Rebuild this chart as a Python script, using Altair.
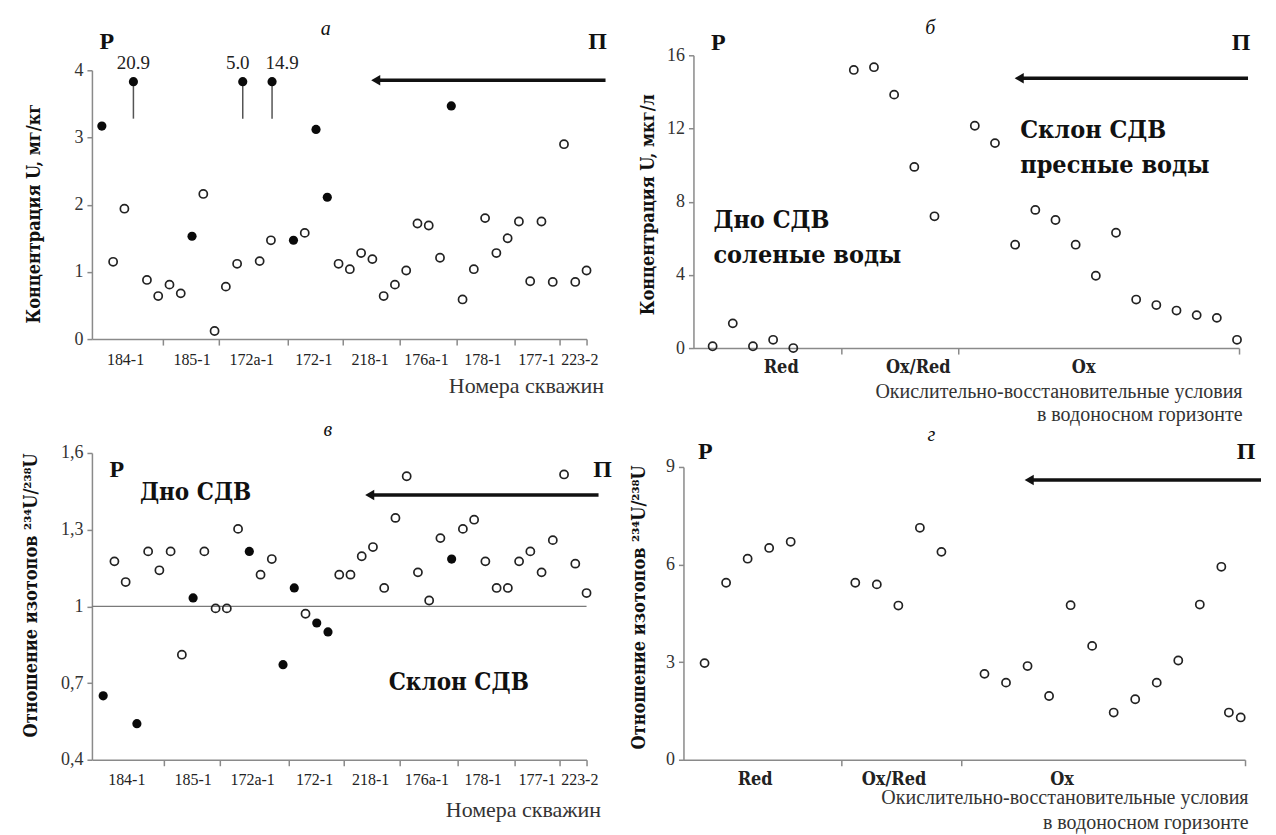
import altair as alt
import pandas as pd

SERIF = "'Liberation Serif', 'Times New Roman', serif"
BOLD = "'DejaVu Serif Condensed', 'DejaVu Serif', serif"
GRAY = "#8a8a8a"
INK = "#111111"

# ---------- panel a : U concentration in rocks ----------
wells = ["184-1", "185-1", "172a-1", "172-1", "218-1", "176a-1", "178-1", "177-1", "223-2"]
well_label_pos = [2.1, 8.0, 13.3, 18.8, 23.8, 28.8, 33.8, 38.6, 42.4]
well_ticks = [5.4, 10.4, 16.5, 21.4, 26.4, 31.5, 36.6, 40.6, 43.0]

a_x = [0, 1, 2, 4, 5, 6, 7, 8, 9, 10, 11, 12, 14, 15, 17, 18, 19, 20, 21, 22, 23, 24,
       25, 26, 27, 28, 29, 30, 31, 32, 33, 34, 35, 36, 37, 38, 39, 40, 41, 42, 43]
a_y = [3.17, 1.15, 1.94, 0.88, 0.64, 0.81, 0.68, 1.53, 2.16, 0.12, 0.78, 1.12, 1.16, 1.47,
       1.47, 1.58, 3.12, 2.11, 1.12, 1.04, 1.28, 1.19, 0.64, 0.81, 1.02, 1.72, 1.69, 1.21,
       3.47, 0.59, 1.04, 1.80, 1.28, 1.50, 1.75, 0.86, 1.75, 0.85, 2.90, 0.85, 1.02]
a_fill = [1, 0, 0, 0, 0, 0, 0, 1, 0, 0, 0, 0, 0, 0, 1, 0, 1, 1, 0, 0, 0, 0, 0, 0, 0, 0, 0,
          0, 1, 0, 0, 0, 0, 0, 0, 0, 0, 0, 0, 0, 0]
# off-scale values drawn at the top of the axis
cap_x = [2.8, 12.5, 15.1]
cap_y = [3.83, 3.83, 3.83]
cap_low = [3.28, 3.28, 3.28]
cap_text = ["20.9", "5.0", "14.9"]

# ---------- panel b : U concentration in water ----------
redox = ["Red", "Ox/Red", "Ox"]
b_label_pos = [3.4, 10.2, 18.4]
b_ticks = [6.37, 12.18, 26.1]
b_x = [0, 1, 2, 3, 4, 7, 8, 9, 10, 11, 13, 14, 15, 16, 17, 18, 19, 20, 21, 22, 23, 24, 25, 26]
b_y = [0.1, 1.35, 0.1, 0.45, 0.0, 15.2, 15.35, 13.85, 9.9, 7.2, 12.15, 11.2, 5.65, 7.55,
       7.0, 5.65, 3.95, 6.3, 2.65, 2.35, 2.05, 1.8, 1.65, 0.45]

# ---------- panel c : 234U/238U in rocks ----------
c_y = [0.65, 1.176, 1.095, 0.541, 1.215, 1.141, 1.215, 0.811, 1.033, 1.215, 0.992, 0.992,
       1.303, 1.215, 1.124, 1.185, 0.772, 1.072, 0.971, 0.935, 0.90, 1.124, 1.124, 1.196,
       1.232, 1.072, 1.346, 1.509, 1.133, 1.023, 1.267, 1.185, 1.303, 1.339, 1.176, 1.072,
       1.072, 1.176, 1.215, 1.133, 1.259, 1.516, 1.167, 1.052]
c_x = list(range(len(c_y)))
c_fill = [1 if i in (0, 3, 8, 13, 16, 17, 19, 20, 31) else 0 for i in c_x]

# ---------- panel d : 234U/238U in water ----------
d_label_pos = [2.35, 8.8, 16.6]
d_ticks = [6.35, 11.9, 25.1]
d_x = [0, 1, 2, 3, 4, 7, 8, 9, 10, 11, 13, 14, 15, 16, 17, 18, 19, 20, 21, 22, 23, 24, 24.35, 24.9]
d_y = [2.97, 5.44, 6.18, 6.51, 6.70, 5.44, 5.39, 4.74, 7.13, 6.39, 2.64, 2.37, 2.88, 1.96,
       4.75, 3.50, 1.45, 1.86, 2.37, 3.05, 4.77, 5.93, 1.45, 1.30]

ratio_title = "Отношение изотопов ²³⁴U/²³⁸U"
redox_title = ["Окислительно-восстановительные условия", "в водоносном горизонте"]


def yaxis(title, values, tx, ty, offset=0, expr=None):
    kw = dict(values=values, title=title, titleX=tx, titleY=ty, titleAngle=270,
              titleBaseline="middle", titleAlign="center", titleFont=BOLD, titleFontSize=18,
              titleFontWeight="bold", titleColor=INK, labelFont=SERIF, labelFontSize=18,
              labelColor="#333333", tickSize=5, tickWidth=1.5, tickColor=GRAY,
              domainColor=GRAY, domainWidth=1.5, grid=False, labelPadding=4, offset=offset)
    if expr:
        kw["labelExpr"] = expr
    return alt.Axis(**kw)


def xaxis(title, values, tx, ty, offset=0, size=22, lh=24, baseline="middle"):
    return alt.Axis(values=values, labels=False, title=title, titleX=tx, titleY=ty,
                    titleAlign="right", titleBaseline=baseline, titleFont=SERIF,
                    titleFontSize=size, titleFontWeight="normal", titleColor="#333333",
                    titleLineHeight=lh, tickSize=6, tickWidth=1.5, tickColor=GRAY,
                    domainColor=GRAY, domainWidth=1.5, grid=False, offset=offset)


def text_at(t, x, y, size, weight="bold", style="normal", font=SERIF, align="center",
            baseline="middle", color=INK, lh=None):
    kw = dict(font=font, fontSize=size, fontWeight=weight, fontStyle=style, align=align,
              baseline=baseline, color=color)
    if lh:
        kw["lineBreak"] = "\n"
        kw["lineHeight"] = lh
    return alt.Chart(pd.DataFrame({"t": [t]})).mark_text(**kw).encode(
        x=alt.value(x), y=alt.value(y), text="t:N")


def arrow(xh, xt, y):
    d = pd.DataFrame({"k": [0]})
    line = alt.Chart(d).mark_rule(strokeWidth=3.5, color=INK).encode(
        x=alt.value(xh + 6), x2=alt.value(xt), y=alt.value(y))
    head = alt.Chart(d).mark_point(shape="triangle-left", filled=True, size=110,
                                   color=INK, opacity=1).encode(
        x=alt.value(xh + 5), y=alt.value(y))
    return [line, head]


def points(df, X, Y):
    open_ = alt.Chart(df).transform_filter("datum.f == 0").mark_point(
        shape="circle", size=66, strokeWidth=1.7, color="#222222", opacity=1,
        filled=False).encode(x=X, y=Y)
    full = alt.Chart(df).transform_filter("datum.f == 1").mark_point(
        shape="circle", size=84, filled=True, color="#0a0a0a", opacity=1).encode(x=X, y=Y)
    return [open_, full]


def cat_labels(names, pos, X, y, size, weight, font):
    df = pd.DataFrame({"x": pos, "t": names})
    return alt.Chart(df).mark_text(font=font, fontSize=size, fontWeight=weight,
                                   color="#222222", baseline="middle").encode(
        x=X, y=alt.value(y), text="t:N")


comma = "datum.value == 1 ? '1' : replace(format(datum.value, '.1f'), '.', ',')"

# ---------------- panel a ----------------
W1, W2, H1, H2 = 495, 562, 293, 307
Xa = alt.X("x:Q", scale=alt.Scale(domain=[-0.88, 43.0], range=[0, W1], nice=False, zero=False),
           axis=xaxis("Номера скважин", well_ticks, 512, 46, offset=-9))
Ya = alt.Y("y:Q", scale=alt.Scale(domain=[0, 4], range=[284, 15], nice=False),
           axis=yaxis("Концентрация U, мг/кг", [0, 1, 2, 3, 4], -57, 158))
dfa = pd.DataFrame({"x": a_x, "y": a_y, "f": a_fill})
dfcap = pd.DataFrame({"x": cap_x, "y": cap_y, "y2": cap_low, "t": cap_text, "f": [1, 1, 1]})
cap_rule = alt.Chart(dfcap).mark_rule(color="#555555", strokeWidth=1.5).encode(
    x=Xa, y=Ya, y2="y2:Q")
cap_dot = alt.Chart(dfcap).mark_point(shape="circle", size=84, filled=True,
                                      color="#0a0a0a", opacity=1).encode(x=Xa, y=Ya)
cap_labs = []
for t, shift in zip(cap_text, [0, -5, 10]):
    cap_labs.append(
        alt.Chart(dfcap).transform_filter(alt.datum.t == t).mark_text(
            font=SERIF, fontSize=19, color="#222222", baseline="middle", dx=shift
        ).encode(x=Xa, y=alt.value(8), text="t:N"))
panel_a = alt.layer(
    *points(dfa, Xa, Ya), cap_rule, cap_dot, *cap_labs,
    cat_labels(wells, well_label_pos, Xa, 305, 16, "normal", SERIF),
    *arrow(279, 514, 25),
    text_at("Р", 15, -13, 24), text_at("П", 506, -13, 24),
    text_at("а", 234, -26, 20, weight="normal", style="italic"),
).properties(width=W1, height=H1)

# ---------------- panel b ----------------
Xb = alt.X("x:Q", scale=alt.Scale(domain=[-0.95, 26.1], range=[10, 556], nice=False, zero=False),
           axis=xaxis(redox_title, b_ticks, 559, 33, size=20, baseline="top"))
Yb = alt.Y("y:Q", scale=alt.Scale(domain=[0, 16], range=[H1, 0], nice=False),
           axis=yaxis("Концентрация U, мкг/л", [0, 4, 8, 12, 16], -45, 149, offset=-10))
dfb = pd.DataFrame({"x": b_x, "y": b_y, "f": [0] * len(b_x)})
panel_b = alt.layer(
    *points(dfb, Xb, Yb),
    cat_labels(redox, b_label_pos, Xb, 313, 18, "bold", BOLD),
    *arrow(331, 565, 23),
    text_at("Р", 35, -12, 24), text_at("П", 558, -12, 24),
    text_at("б", 247, -27, 20, weight="normal", style="italic"),
    text_at("Дно СДВ\nсоленые воды", 30, 165, 25, font=BOLD, align="left", lh=35),
    text_at("Склон СДВ\nпресные воды", 337, 75, 25, font=BOLD, align="left", lh=35),
).properties(width=W2, height=H1)

# ---------------- panel c ----------------
Xc = alt.X("x:Q", scale=alt.Scale(domain=[-1.0, 43.0], range=[0, W1], nice=False, zero=False),
           axis=xaxis("Номера скважин", well_ticks, 509, 50))
Yc = alt.Y("y:Q", scale=alt.Scale(domain=[0.4, 1.6], range=[H2, 0], nice=False, zero=False),
           axis=yaxis(ratio_title, [0.4, 0.7, 1.0, 1.3, 1.6], -60, 142, expr=comma))
dfc = pd.DataFrame({"x": c_x, "y": c_y, "f": c_fill})
one = alt.Chart(pd.DataFrame({"k": [0]})).mark_rule(color="#7a7a7a", strokeWidth=1.3).encode(
    x=alt.value(0), x2=alt.value(W1), y=alt.datum(1.0))
panel_c = alt.layer(
    one, *points(dfc, Xc, Yc),
    cat_labels(wells, well_label_pos, Xc, 327, 16, "normal", SERIF),
    *arrow(273, 507, 42),
    text_at("Р", 25, 17, 24), text_at("П", 511, 17, 24),
    text_at("в", 236, -23, 20, weight="normal", style="italic"),
    text_at("Дно СДВ", 48, 40, 24, font=BOLD, align="left"),
    text_at("Склон СДВ", 297, 230, 24, font=BOLD, align="left"),
).properties(width=W1, height=H2)

# ---------------- panel d ----------------
Xd = alt.X("x:Q", scale=alt.Scale(domain=[-0.98, 25.1], range=[0, W2], nice=False, zero=False),
           axis=xaxis(redox_title, d_ticks, 565, 28, size=20, lh=25, baseline="top"))
Yd = alt.Y("y:Q", scale=alt.Scale(domain=[0, 9], range=[H2, 14], nice=False),
           axis=yaxis(ratio_title, [0, 3, 6, 9], -44, 154))
dfd = pd.DataFrame({"x": d_x, "y": d_y, "f": [0] * len(d_x)})
panel_d = alt.layer(
    *points(dfd, Xd, Yd),
    cat_labels(redox, d_label_pos, Xd, 327, 18, "bold", BOLD),
    *arrow(341, 578, 27),
    text_at("Р", 22, -1, 24), text_at("П", 563, -1, 24),
    text_at("г", 248, -18, 20, weight="normal", style="italic"),
).properties(width=W2, height=H2)

chart = alt.concat(
    panel_a, panel_b, panel_c, panel_d, columns=2,
    spacing={"row": 105, "column": 97}, bounds="flush", align="each",
).properties(
    padding={"left": 14, "top": 10, "right": 5, "bottom": 5},
    background="white",
).configure_view(stroke=None)

chart.save("out.html", embed_options={"renderer": "svg", "actions": False})
